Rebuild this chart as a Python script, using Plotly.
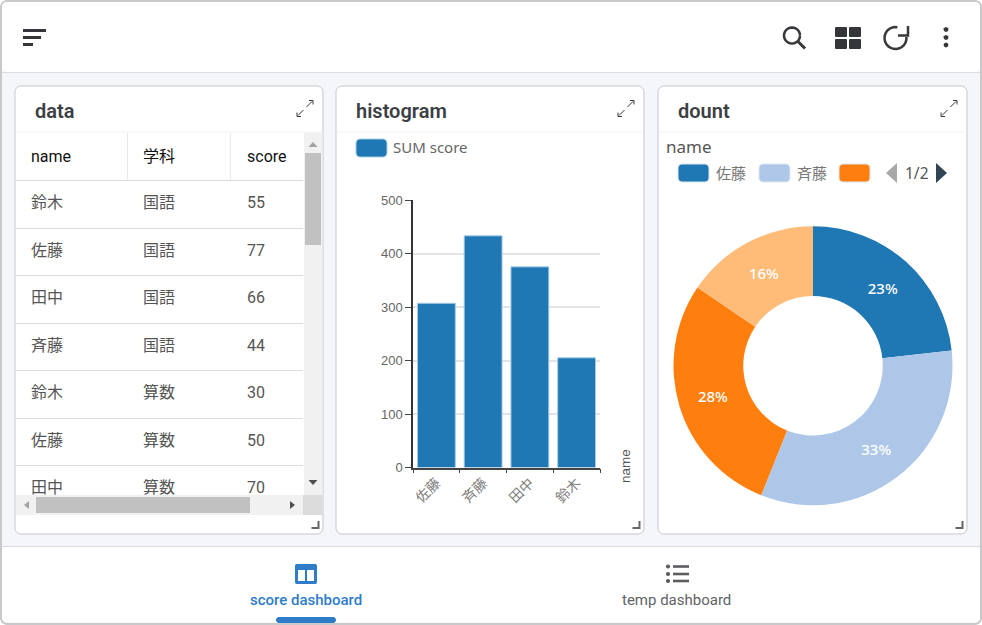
import math
import plotly.graph_objects as go

W, H = 982, 625

# table shown in the "data" card
table_names = ["鈴木", "佐藤", "田中", "斉藤", "鈴木", "佐藤", "田中"]
table_subjects = ["国語", "国語", "国語", "国語", "算数", "算数", "算数"]
table_scores = [55, 77, 66, 44, 30, 50, 70]
table_headers = ["name", "学科", "score"]

# histogram / dount
names = ["佐藤", "斉藤", "田中", "鈴木"]
sum_score = [307, 433, 375, 205]
pie_colors = ["#1f77b4", "#aec7e8", "#ff7f0e", "#ffbb78"]
y_ticks = [0, 100, 200, 300, 400, 500]

JP = "'Noto Sans CJK JP'"
NOTO = "'Noto Sans', 'Noto Sans CJK JP'"
ROBOTO = "Roboto, 'Noto Sans CJK JP'"
BLUE = "#2f7cc9"
DARK = "#37393c"


def px(x):
    return x / W


def py(y):
    return 1 - y / H


def path(points, close=True):
    s = " ".join(("M" if i == 0 else "L") + f"{px(x):.5f},{py(y):.5f}" for i, (x, y) in enumerate(points))
    return s + (" Z" if close else "")


def round_pts(x0, y0, x1, y1, r):
    # polygon approximation of a rounded rectangle
    pts = []
    for cx, cy, a0 in [(x1 - r, y0 + r, -90), (x1 - r, y1 - r, 0), (x0 + r, y1 - r, 90), (x0 + r, y0 + r, 180)]:
        for k in range(7):
            a = math.radians(a0 + k * 15)
            pts.append((cx + r * math.cos(a), cy + r * math.sin(a)))
    return pts


shapes_below = []
shapes_above = []
notes = []


def rect(x0, y0, x1, y1, fill, r=0, line=None, lw=1, above=False):
    target = shapes_above if above else shapes_below
    target.append(dict(type="path", xref="paper", yref="paper", layer="above" if above else "below",
                       path=path(round_pts(x0, y0, x1, y1, r)) if r else path([(x0, y0), (x1, y0), (x1, y1), (x0, y1)]),
                       fillcolor=fill, line=dict(color=line or "rgba(0,0,0,0)", width=lw if line else 0)))


def stroke(points, color, lw=1, above=False, close=False):
    target = shapes_above if above else shapes_below
    target.append(dict(type="path", xref="paper", yref="paper", layer="above" if above else "below",
                       path=path(points, close), line=dict(color=color, width=lw)))


def poly(points, fill, above=False):
    target = shapes_above if above else shapes_below
    target.append(dict(type="path", xref="paper", yref="paper", layer="above" if above else "below",
                       path=path(points), fillcolor=fill, line=dict(width=0)))


def text(x, y, s, size, color, family=ROBOTO, anchor="left", weight=None, angle=0):
    f = dict(size=size, color=color, family=family)
    if weight:
        f["weight"] = weight
    notes.append(dict(xref="paper", yref="paper", x=px(x), y=py(y), text=s, showarrow=False, font=f,
                      xanchor=anchor, yanchor="middle", textangle=angle, borderpad=0, borderwidth=0))


# window chrome
rect(0, 0, W, H, "#ffffff")
rect(1, 1, 981, 624, "#f5f6f9", r=6, line="#c9c9cb", lw=2)
rect(2, 2, 980, 72, "#ffffff", r=5)
stroke([(2, 72.5), (980, 72.5)], "#dcdcE0", 1)
rect(2, 547, 980, 622, "#ffffff", r=5)
stroke([(2, 546.5), (980, 546.5)], "#dadadd", 1)

# cards
for x0, x1, title in [(15, 323, "data"), (336, 644, "histogram"), (658, 967, "dount")]:
    rect(x0, 86, x1, 534, "#ffffff", r=6, line="#c6c7cc", lw=1)
    stroke([(x0 + 1, 132), (x1 - 1, 132)], "#f3f3f5", 1)
    text(x0 + 20, 111, title, 20, "#3c3f43", weight=600)
    ex, ey = x1 - 18, 108.5
    stroke([(ex - 7, ey + 7), (ex - 1.5, ey + 1.5)], DARK, 1)
    stroke([(ex + 1.5, ey - 1.5), (ex + 7, ey - 7)], DARK, 1)
    stroke([(ex - 8, ey + 4), (ex - 8, ey + 8), (ex - 4, ey + 8)], DARK, 1)
    stroke([(ex + 4, ey - 8), (ex + 8, ey - 8), (ex + 8, ey - 4)], DARK, 1)
    stroke([(x1 - 11.5, 528), (x1 - 4.5, 528), (x1 - 4.5, 521)], "#666666", 2)

# table rules
stroke([(127.5, 133), (127.5, 180)], "#e9e9e9", 1)
stroke([(230.5, 133), (230.5, 180)], "#e9e9e9", 1)
for yy in [180.5, 228.5, 275.5, 323.5, 370.5, 418.5, 465.5]:
    stroke([(16, yy), (303, yy)], "#dcdcdc", 1)

# scrollbars go over the table
rect(304, 133, 322.5, 495, "#f1f1f1", above=True)
rect(305, 153, 321, 245, "#c1c1c1", above=True)
poly([(308.5, 147), (313, 142), (317.5, 147)], "#a3a3a3", above=True)
poly([(308.5, 480), (317.5, 480), (313, 485)], "#505050", above=True)
rect(16, 495, 304, 515, "#f1f1f1", above=True)
rect(36, 497, 250, 513, "#c1c1c1", above=True)
poly([(29, 501), (29, 509), (24, 505)], "#a3a3a3", above=True)
poly([(290, 501), (290, 509), (295, 505)], "#505050", above=True)
rect(303, 495, 322.5, 515, "#dcdcdc", above=True)

# toolbar icons
for yy, x1 in [(30.5, 46), (37.5, 41), (44.5, 33)]:
    stroke([(23, yy), (x1, yy)], "#34363a", 3)
search = [(792 + 8 * math.cos(math.radians(a)), 35.5 + 8 * math.sin(math.radians(a))) for a in range(0, 361, 15)]
stroke(search, DARK, 2.5)
stroke([(798, 41.5), (805, 48.5)], DARK, 3)
for x0, y0 in [(835, 27), (849, 27), (835, 39), (849, 39)]:
    rect(x0, y0, x0 + 12, y0 + 10, "#34363a", r=1)
arc = [(895.5 + 11 * math.cos(math.radians(a)), 38 + 11 * math.sin(math.radians(a))) for a in range(-5, 291, 15)]
stroke(arc, DARK, 2.5)
stroke([(908, 26), (908, 35.5), (898, 35.5)], DARK, 2.5)
for yy in [29.5, 37.5, 45]:
    dot = [(946 + 2.4 * math.cos(math.radians(a)), yy + 2.4 * math.sin(math.radians(a))) for a in range(0, 360, 30)]
    poly(dot, "#34363a")

# bottom nav
rect(295, 564, 317, 584, BLUE, r=2)
rect(298, 570, 305, 581, "#ffffff")
rect(307, 570, 314, 581, "#ffffff")
rect(276, 617, 336, 623, BLUE, r=3)
text(306, 600, "score dashboard", 15, BLUE, anchor="center", weight=500)
for yy in [566.5, 574, 581]:
    stroke([(673, yy), (689, yy)], "#5a5c60", 2.6)
    dot = [(668 + 2.1 * math.cos(math.radians(a)), yy + 2.1 * math.sin(math.radians(a))) for a in range(0, 360, 30)]
    poly(dot, "#5a5c60")
text(676, 600, "temp dashboard", 15, "#5f6368", anchor="center")

# histogram legend
rect(356, 139, 387, 157, "#1f77b4", r=4, line="#a9cbe3", lw=1)
text(393, 147, "SUM score", 15, "#666666", family=NOTO)
text(625, 466, "name", 13.5, "#555555", family="Liberation Sans", anchor="center", angle=-90)

# dount legend
text(666, 146, "name", 17, "#555555", family=NOTO)
for x0, color, label in [(678, pie_colors[0], names[0]), (759, pie_colors[1], names[1]), (839, pie_colors[2], None)]:
    rect(x0, 164, x0 + 31, 182, color, r=4, line="#dde8f2", lw=1)
    if label:
        text(x0 + 38, 173, label, 15, "#777777", family=JP)
poly([(886, 173), (897, 163), (897, 183)], "#a8a8a8")
text(917, 173, "1/2", 15.5, "#555555", family=NOTO, anchor="center")
poly([(936, 163), (947, 173), (936, 183)], "#2f4554")

fig = go.Figure()

fig.add_trace(go.Table(
    domain=dict(x=[px(23), px(303)], y=[py(495), py(142)]),
    columnwidth=[112, 104, 64],
    header=dict(values=table_headers, height=46, align="left", fill_color="rgba(0,0,0,0)",
                line=dict(width=0), font=dict(size=16, color="#111111", family=ROBOTO)),
    cells=dict(values=[table_names, table_subjects, table_scores], height=47.5, align="left",
               fill_color="rgba(0,0,0,0)", line=dict(width=0),
               font=dict(size=16, color="#555555", family=ROBOTO)),
))

fig.add_trace(go.Bar(
    x=names, y=sum_score, width=0.81, showlegend=False,
    marker=dict(color="#1f77b4", line=dict(color="#a9cbe3", width=1)),
))

fig.add_trace(go.Pie(
    labels=names, values=sum_score, hole=0.5, sort=False, direction="clockwise", rotation=0,
    domain=dict(x=[px(673.5), px(952.5)], y=[py(505.5), py(226)]),
    marker=dict(colors=pie_colors, line=dict(width=0)),
    textinfo="percent", textposition="inside", insidetextorientation="horizontal",
    texttemplate="%{percent:.0%}",
    textfont=dict(size=15, color="#ffffff", family=NOTO, weight=500), showlegend=False,
))

fig.update_layout(
    width=W, height=H, autosize=False,
    margin=dict(l=0, r=0, t=0, b=0),
    paper_bgcolor="#ffffff", plot_bgcolor="rgba(0,0,0,0)",
    showlegend=False, bargap=0.19,
    shapes=shapes_below + shapes_above,
    annotations=notes,
    xaxis=dict(domain=[px(413), px(600)], range=[-0.5, 3.5], type="category", categoryorder="array",
               categoryarray=names, tickson="boundaries", ticks="outside", ticklen=4, tickcolor="#444444",
               tickwidth=1, showline=True, linecolor="#444444", linewidth=1.5, showgrid=False, tickangle=-45,
               tickfont=dict(size=14, color="#808080", family=JP), fixedrange=True, automargin=False),
    yaxis=dict(domain=[py(467.5), py(200)], range=[0, 500], tickvals=y_ticks, ticks="outside", ticklen=6,
               tickcolor="#444444", showline=True, linecolor="#333333", linewidth=1.5, gridcolor="#e4e4e4",
               gridwidth=2, zeroline=False, tickfont=dict(size=13, color="#666666", family="Liberation Sans"),
               fixedrange=True, automargin=False),
)

# pin the plot to the corner of the window, otherwise the page margin shifts it
pin = """
document.body.style.margin = '0';
var gd = document.querySelector('.plotly-graph-div');
gd.style.position = 'fixed';
gd.style.left = '0';
gd.style.top = '0';
"""
fig.write_html("out.html", config=dict(displayModeBar=False), post_script=pin)
